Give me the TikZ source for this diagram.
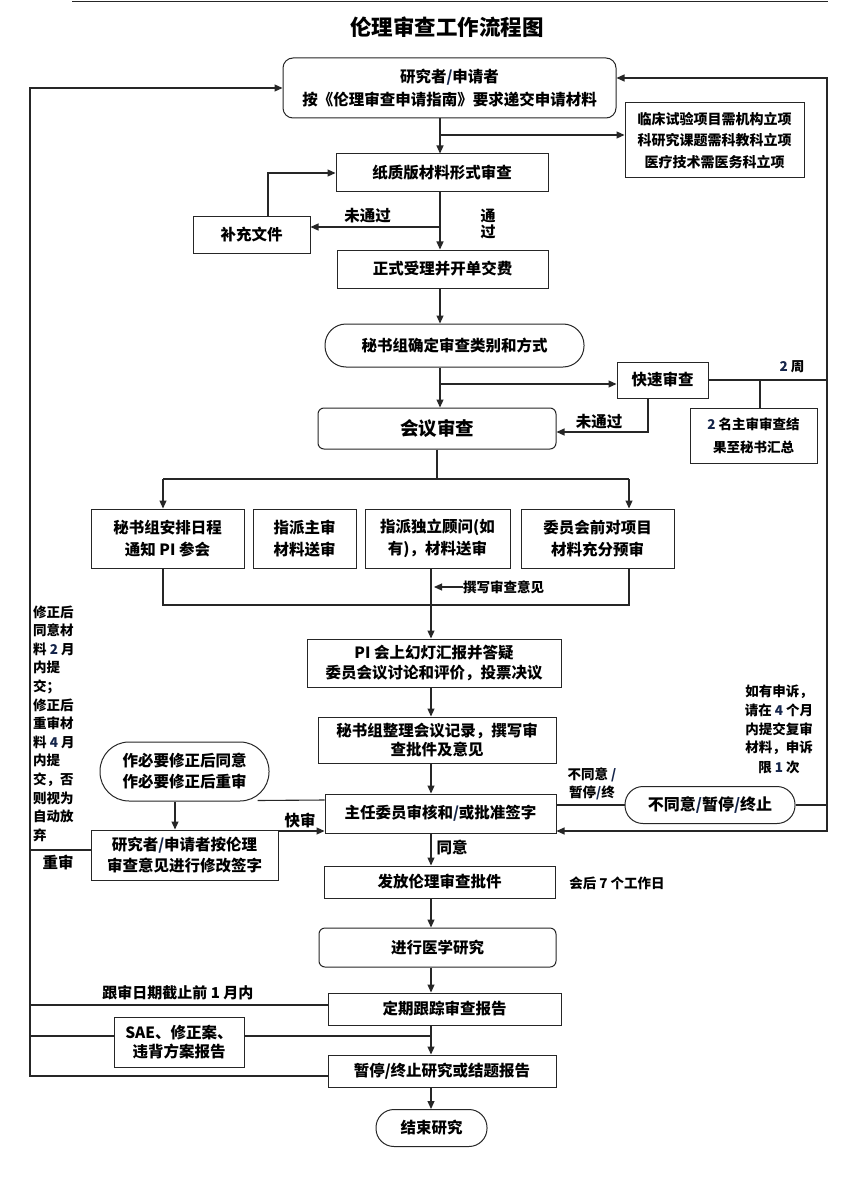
\documentclass[tikz,border=0pt]{standalone}
\usepackage{fontspec}
\setmainfont{Noto Sans CJK SC}
\usetikzlibrary{arrows.meta,calc}
\definecolor{lc}{HTML}{262626}
\definecolor{dblue}{HTML}{15254A}
\newcommand\myfs[2]{\fontsize{#1}{#2}\selectfont}
\newcommand\bsl{{\color{dblue}/}}
\newcommand\bz[1]{{\color{dblue}#1}}
\begin{document}
\begin{tikzpicture}[x=1pt,y=-1pt,
  nbox/.style={draw=lc, line width=1pt, align=center, inner sep=0pt, font=\bfseries\myfs{15.5}{19}},
  pillbox/.style={nbox, rounded corners=18pt},
  lbl/.style={inner sep=0pt, align=center, font=\bfseries\myfs{15.5}{19}},
  smlbl/.style={inner sep=0pt, align=center, font=\bfseries\myfs{13.5}{18.7}},
  conn/.style={draw=lc, line width=1.1pt},
  carr/.style={conn, -{Triangle[length=8pt,width=7pt]}}]
\useasboundingbox (0,0) rectangle (865,1190);
\fill[white] (0,0) rectangle (865,1190);
\draw[lc, line width=1.3pt] (72,1.5) -- (828,1.5);

\node[lbl, font=\bfseries\myfs{21.5}{24}] (title) at (447,27) {伦理审查工作流程图};

% main nodes
\node[nbox, rounded corners=10pt, minimum width=333pt, minimum height=60pt, font=\bfseries\myfs{15.5}{23}] (n1) at (449.5,88) {研究者\bsl 申请者\\按《伦理审查申请指南》要求递交申请材料};
\node[nbox, minimum width=179pt, minimum height=75pt, font=\bfseries\myfs{14}{21.5}] (nR) at (714.5,140.5) {临床试验项目需机构立项\\科研究课题需科教科立项\\医疗技术需医务科立项};
\node[nbox, minimum width=212pt, minimum height=38pt] (n2) at (442,173) {纸质版材料形式审查};
\node[nbox, minimum width=117pt, minimum height=36pt] (nBu) at (251.5,235) {补充文件};
\node[nbox, minimum width=211pt, minimum height=38pt] (n3) at (442.5,269) {正式受理并开单交费};
\node[nbox, rounded corners=21pt, minimum width=259pt, minimum height=43pt] (n4) at (454.5,345.5) {秘书组确定审查类别和方式};
\node[nbox, minimum width=91pt, minimum height=36pt] (nK) at (662.5,380) {快速审查};
\node[nbox, rounded corners=6pt, minimum width=238pt, minimum height=41pt, font=\bfseries\myfs{18.5}{22}] (nM) at (437,428.5) {会议审查};
\node[nbox, minimum width=127pt, minimum height=55pt, font=\bfseries\myfs{13.5}{23}] (nZ) at (753.5,435.5) {\bz{2} 名主审审查结\\果至秘书汇总};

\node[nbox, minimum width=153pt, minimum height=59pt, font=\bfseries\myfs{15.5}{22}] (nA) at (167.5,538.5) {秘书组安排日程\\通知 PI 参会};
\node[nbox, minimum width=103pt, minimum height=59pt, font=\bfseries\myfs{15.5}{22}] (nB2) at (304.5,538.5) {指派主审\\材料送审};
\node[nbox, minimum width=145pt, minimum height=59pt, font=\bfseries\myfs{15.5}{22}] (nC) at (437.5,538.5) {指派独立顾问(如\\有)，材料送审};
\node[nbox, minimum width=153pt, minimum height=59pt, font=\bfseries\myfs{15.5}{22}] (nD) at (597.5,538.5) {委员会前对项目\\材料充分预审};
\node[smlbl, anchor=west] (nW) at (463,587) {撰写审查意见};

\node[nbox, minimum width=254pt, minimum height=48pt, font=\bfseries\myfs{15.5}{20}] (nP) at (434,663) {PI 会上幻灯汇报并答疑\\委员会议讨论和评价，投票决议};
\node[nbox, minimum width=238pt, minimum height=46pt, font=\bfseries\myfs{15.5}{19}] (nS1) at (437,740) {秘书组整理会议记录，撰写审\\查批件及意见};
\node[nbox, minimum width=231pt, minimum height=39pt] (nZR) at (440.5,813.5) {主任委员审核和\bsl 或批准签字};
\node[nbox, rounded corners=29pt, minimum width=169pt, minimum height=59pt, font=\bfseries\myfs{15.5}{21}] (nE) at (184.5,771.5) {作必要修正后同意\\作必要修正后重审};
\node[nbox, minimum width=187pt, minimum height=50pt, font=\bfseries\myfs{15.5}{21}] (nX) at (184.5,855) {研究者\bsl 申请者按伦理\\审查意见进行修改签字};
\node[nbox, rounded corners=18pt, minimum width=170pt, minimum height=37pt, font=\bfseries\myfs{16}{19}] (nN) at (710,805) {不同意\bsl 暂停\bsl 终止};
\node[nbox, minimum width=231pt, minimum height=32pt] (nF) at (439.5,882) {发放伦理审查批件};
\node[nbox, rounded corners=6pt, minimum width=237pt, minimum height=39pt] (nY) at (437.5,947.5) {进行医学研究};
\node[nbox, minimum width=233pt, minimum height=32pt] (nT) at (444.5,1009) {定期跟踪审查报告};
\node[nbox, minimum width=130pt, minimum height=50pt, font=\bfseries\myfs{15.5}{19}] (nS) at (179,1042) {SAE、修正案、\\违背方案报告};
\node[nbox, minimum width=228pt, minimum height=32pt] (nQ) at (442,1071) {暂停/终止研究或结题报告};
\node[nbox, rounded corners=18pt, minimum width=111pt, minimum height=37pt] (nEnd) at (431.5,1128) {结束研究};

% labels
\node[lbl] (l1) at (367.5,216) {未通过};
\node[lbl, font=\bfseries\myfs{15}{16}] (l2) at (488,224) {通\\过};
\node[smlbl] (l3) at (792,367) {\bz{2} 周};
\node[lbl] (l4) at (599,422) {未通过};
\foreach \t [count=\i] in {修正后,同意材,料 \bz{2} 月,内提,交；,修正后,重审材,料 \bz{4} 月,内提,交，否,则视为,自动放,弃}
  \node[smlbl, anchor=west] (lt\i) at (33,{612+18.6*(\i-1)}) {\t};
\foreach \t [count=\i] in {如有申诉，,请在 \bz{4} 个月,内提交复审,材料，申诉,限 \bz{1} 次}
  \node[smlbl] (rt\i) at (779,{692+18.75*(\i-1)}) {\t};
\node[smlbl, font=\bfseries\myfs{13.5}{18}] (l7) at (592,784) {不同意 \bsl\\暂停\bsl 终};
\node[lbl] (l8) at (300,821) {快审};
\node[lbl] (l9) at (58,862) {重审};
\node[lbl] (l10) at (452,847) {同意};
\node[smlbl] (l11) at (617,883) {会后 7 个工作日};
\node[lbl, font=\bfseries\myfs{15}{19}] (l12) at (178,993) {跟审日期截止前 1 月内};

% helper coordinates
\coordinate (xa) at (440,0);
\coordinate (j1) at (440,135);
\coordinate (j2) at (440,227);
\coordinate (j3) at (440,384);
\coordinate (xp) at (431,0);
\coordinate (Lx) at (30,0);
\coordinate (Rx) at (827,0);
\coordinate (bt1) at (163,479);
\coordinate (bt2) at (629,479);
\coordinate (bb1) at (163,605);
\coordinate (bb2) at (629,605);

% top part
\draw[carr] (n1.south -| xa) -- (n2.north -| xa);
\draw[carr] (j1) -- (j1 -| nR.west);
\draw[carr] (n2.south -| xa) -- (n3.north -| xa);
\draw[carr] (j2) -- (j2 -| nBu.east);
\draw[carr] ([xshift=16.5pt]nBu.north) |- (n2.west);
\draw[carr] (n3.south -| xa) -- (n4.north -| xa);
\draw[carr] (n4.south -| xa) -- (nM.north -| xa);
\draw[carr] (j3) -- (j3 -| nK.west);
\draw[carr] ([xshift=-14.5pt]nK.south) |- ([yshift=-3.5pt]nM.east);

% right loop
\coordinate (n1r) at ([yshift=10pt]n1.east);
\draw[carr] (nK.east) -| (n1r -| Rx) -- (n1r);
\coordinate (rj) at (nK.east -| Rx);
\coordinate (zrr) at ([yshift=-17.5pt]nZR.east);
\draw[carr] (rj) -- (zrr -| Rx) -- (zrr);
\draw[conn] (nZR.east |- nN.west) -- (nN.west);
\draw[conn] (nN.east) -- (nN.east -| Rx);
\coordinate (zb) at ([xshift=6.5pt]nZ.north);
\draw[conn] (zb) -- (zb |- nK.east);

% meeting split
\draw[conn] (nM.south) -- (nM.south |- bt1);
\draw[conn] (bt1) -- (bt2);
\draw[carr] (bt1) -- (bt1 |- nA.north);
\draw[carr] (bt2) -- (bt2 |- nD.north);
\draw[conn] (bb1 |- nA.south) -- (bb1) -- (bb2) -- (bb2 |- nD.south);
\draw[carr] (nC.south -| xp) -- (nP.north -| xp);
\draw[carr] (nW.west) -- ++(-29,0);

% lower chain
\draw[carr] (nP.south -| xp) -- (nS1.north -| xp);
\draw[carr] (nS1.south -| xp) -- (nZR.north -| xp);
\draw[carr] (nZR.south -| xp) -- (nF.north -| xp);
\draw[carr] (nF.south -| xp) -- (nY.north -| xp);
\draw[carr] (nY.south -| xp) -- (nT.north -| xp);
\draw[carr] (nT.south -| xp) -- (nQ.north -| xp);
\draw[carr] (nQ.south -| xp) -- (nEnd.north -| xp);

% revision loop
\coordinate (zl) at ([yshift=13.5pt]nZR.west);
\coordinate (el) at ([xshift=-12pt,yshift=1pt]nE.south east);
\draw[conn] (zl) -- (el);
\draw[carr] ([xshift=-9.5pt]nE.south) -- ([xshift=-9.5pt]nX.north);
\coordinate (xr) at ([yshift=24pt]nX.east);
\draw[carr] (xr) -- (xr -| nZR.west);

% left loop
\coordinate (ql) at ([yshift=-5pt]nQ.west);
\draw[carr] (ql) -| (n1.west -| Lx) -- (n1.west);
\coordinate (tl) at ([yshift=4pt]nT.west);
\draw[conn] (tl) -- (tl -| Lx);
\coordinate (sl) at ([yshift=6pt]nS.west);
\coordinate (sr) at ([yshift=6pt]nS.east);
\draw[conn] (sl -| Lx) -- (sl);
\draw[conn] (sr) -- (sr -| xp);
\coordinate (xl) at ([yshift=5pt]nX.west);
\draw[conn] (xl) -- (xl -| Lx);
\end{tikzpicture}
\end{document}
